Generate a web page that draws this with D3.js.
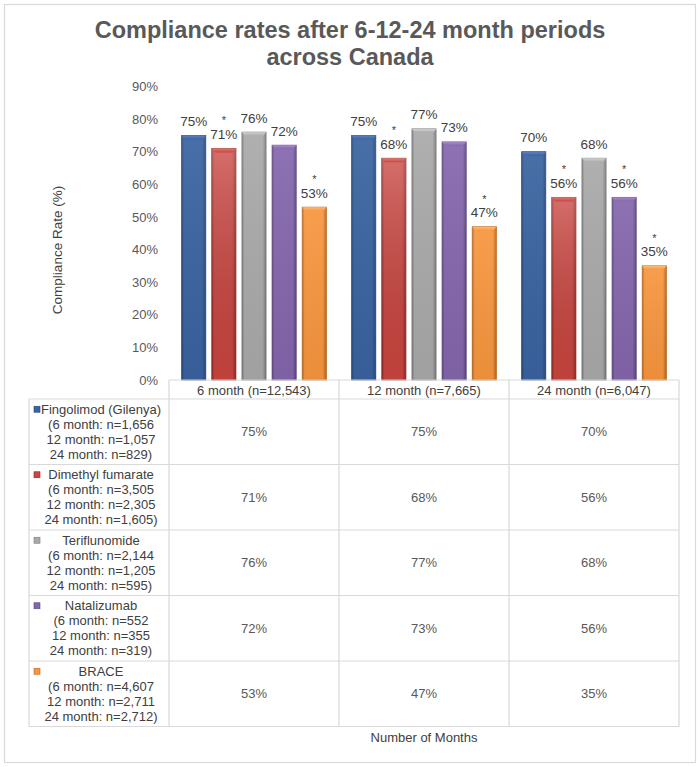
<!DOCTYPE html>
<html>
<head>
<meta charset="utf-8">
<script src="https://cdn.jsdelivr.net/npm/d3@7"></script>
<style>
  html, body { margin: 0; padding: 0; background: #fff; }
  svg { display: block; font-family: Arial, "Liberation Sans", sans-serif; }
</style>
</head>
<body>
<svg id="chart" width="700" height="767"></svg>
<script>
// ---------- data ----------
const periods = ["6 month (n=12,543)", "12 month (n=7,665)", "24 month (n=6,047)"];
const drugs = ["Fingolimod (Gilenya)", "Dimethyl fumarate", "Teriflunomide", "Natalizumab", "BRACE"];
const drugCounts = [
  ["(6 month: n=1,656", "12 month: n=1,057", "24 month: n=829)"],
  ["(6 month: n=3,505", "12 month: n=2,305", "24 month: n=1,605)"],
  ["(6 month: n=2,144", "12 month: n=1,205", "24 month: n=595)"],
  ["(6 month: n=552", "12 month: n=355", "24 month: n=319)"],
  ["(6 month: n=4,607", "12 month: n=2,711", "24 month: n=2,712)"]
];
const fingolimod   = [75, 75, 70];
const dimethyl     = [71, 68, 56];
const teriflunomide = [76, 77, 68];
const natalizumab  = [72, 73, 56];
const brace        = [53, 47, 35];
const seriesValues = [fingolimod, dimethyl, teriflunomide, natalizumab, brace];
// significance markers (*) per series per period
const fingolimodSig    = [false, false, false];
const dimethylSig      = [true, true, true];
const teriflunomideSig = [false, false, false];
const natalizumabSig   = [false, false, true];
const braceSig         = [true, true, true];
const seriesSig = [fingolimodSig, dimethylSig, teriflunomideSig, natalizumabSig, braceSig];
const yTicks = [0, 10, 20, 30, 40, 50, 60, 70, 80, 90];

const colors = [
  { base: "#3A63A0", light: "#5A84C0", dark: "#27487A" },
  { base: "#C9453F", light: "#DE7A74", dark: "#8F2A26" },
  { base: "#A9A9A9", light: "#D2D2D2", dark: "#7A7A7A" },
  { base: "#8466AC", light: "#A88BCB", dark: "#5D4680" },
  { base: "#F7963F", light: "#FBBE7A", dark: "#B8661E" }
];

// ---------- layout ----------
const svg = d3.select("#chart");
const plotLeft = 169, plotRight = 679;
const yTop = 86.5, yBottom = 380;
const tableLeft = 29;
const headerH = 19;
const rowH = 65.5;
const textDark = "#404040", textGray = "#595959", gridGray = "#D9D9D9";

// outer frame
svg.append("rect").attr("x", 4.5).attr("y", 4.5).attr("width", 691).attr("height", 758)
  .attr("fill", "#fff").attr("stroke", gridGray).attr("stroke-width", 1.2);

// title
const title = svg.append("text").attr("text-anchor", "middle")
  .attr("font-size", 23.5).attr("font-weight", "bold").attr("fill", textGray);
title.append("tspan").attr("x", 350).attr("y", 38).text("Compliance rates after 6-12-24 month periods");
title.append("tspan").attr("x", 350).attr("y", 65).text("across Canada");

// scales
const x0 = d3.scaleBand().domain(periods).range([plotLeft, plotRight]).paddingInner(0).paddingOuter(0);
const x1 = d3.scaleBand().domain(drugs).range([0, x0.bandwidth()]).paddingInner(0.2).paddingOuter(0.42);
const y = d3.scaleLinear().domain([0, 90]).range([yBottom, yTop]);

// y axis (labels only)
const yAxis = d3.axisLeft(y).tickValues(yTicks).tickFormat(d => d + "%").tickSize(0).tickPadding(0);
const yg = svg.append("g").attr("transform", `translate(158,0)`).call(yAxis);
yg.select(".domain").remove();
yg.selectAll("text").attr("font-size", 13).attr("fill", textGray)
  .attr("font-family", "Arial, 'Liberation Sans', sans-serif");

// y axis title
svg.append("text").attr("transform", "translate(62,250) rotate(-90)")
  .attr("text-anchor", "middle").attr("font-size", 13.5).attr("fill", textDark)
  .text("Compliance Rate (%)");

// gradients
const defs = svg.append("defs");
colors.forEach((c, i) => {
  const g = defs.append("linearGradient").attr("id", "hg" + i).attr("x1", 0).attr("x2", 1).attr("y1", 0).attr("y2", 0);
  g.append("stop").attr("offset", "0%").attr("stop-color", c.dark);
  g.append("stop").attr("offset", "10%").attr("stop-color", c.base);
  g.append("stop").attr("offset", "85%").attr("stop-color", c.base);
  g.append("stop").attr("offset", "100%").attr("stop-color", c.dark);
  const v = defs.append("linearGradient").attr("id", "vg" + i).attr("x1", 0).attr("x2", 0).attr("y1", 0).attr("y2", 1);
  v.append("stop").attr("offset", "0%").attr("stop-color", "#fff").attr("stop-opacity", i === 1 ? 0.22 : 0.08);
  v.append("stop").attr("offset", "100%").attr("stop-color", "#000").attr("stop-opacity", 0.05);
  const t = defs.append("linearGradient").attr("id", "tg" + i).attr("x1", 0).attr("x2", 0).attr("y1", 0).attr("y2", 1);
  t.append("stop").attr("offset", "0%").attr("stop-color", c.light);
  t.append("stop").attr("offset", "100%").attr("stop-color", c.base);
});

// bars
const flat = [];
periods.forEach((p, pi) => {
  drugs.forEach((dname, di) => {
    flat.push({ period: p, drug: dname, di, value: seriesValues[di][pi], sig: seriesSig[di][pi] });
  });
});

const barG = svg.append("g");
const bars = barG.selectAll("g.bar").data(flat).enter().append("g").attr("class", "bar");
bars.append("rect")
  .attr("x", d => x0(d.period) + x1(d.drug))
  .attr("y", d => y(d.value))
  .attr("width", x1.bandwidth())
  .attr("height", d => y(0) - y(d.value))
  .attr("fill", d => `url(#hg${d.di})`)
  .attr("stroke", d => colors[d.di].dark).attr("stroke-width", 0.8);
bars.append("rect")
  .attr("x", d => x0(d.period) + x1(d.drug))
  .attr("y", d => y(d.value))
  .attr("width", x1.bandwidth())
  .attr("height", d => y(0) - y(d.value))
  .attr("fill", d => `url(#vg${d.di})`);
// top bevel cap
bars.append("path")
  .attr("d", d => {
    const xl = x0(d.period) + x1(d.drug), w = x1.bandwidth(), yt = y(d.value);
    return `M${xl},${yt} L${xl + w},${yt} L${xl + w - 3},${yt + 4} L${xl + 3},${yt + 4} Z`;
  })
  .attr("fill", d => `url(#tg${d.di})`);

// data labels
bars.append("text")
  .attr("x", d => x0(d.period) + x1(d.drug) + x1.bandwidth() / 2)
  .attr("y", d => y(d.value) - 9.5)
  .attr("text-anchor", "middle").attr("font-size", 13.5).attr("fill", textDark)
  .text(d => d.value + "%");
bars.filter(d => d.sig).append("text")
  .attr("x", d => x0(d.period) + x1(d.drug) + x1.bandwidth() / 2)
  .attr("y", d => y(d.value) - 24)
  .attr("text-anchor", "middle").attr("font-size", 11).attr("fill", textDark)
  .text("*");

// ---------- data table ----------
const tbl = svg.append("g");
const tableTop = yBottom;
const rowsTop = tableTop + headerH;
const tableBottom = rowsTop + rowH * drugs.length;
// header row lines
tbl.append("line").attr("x1", plotLeft).attr("x2", plotRight).attr("y1", tableTop).attr("y2", tableTop)
  .attr("stroke", gridGray).attr("stroke-width", 1.2);
// horizontal row lines
d3.range(drugs.length + 1).forEach(i => {
  tbl.append("line").attr("x1", tableLeft).attr("x2", plotRight)
    .attr("y1", rowsTop + i * rowH).attr("y2", rowsTop + i * rowH)
    .attr("stroke", gridGray).attr("stroke-width", 1.2);
});
// vertical lines
tbl.append("line").attr("x1", tableLeft).attr("x2", tableLeft).attr("y1", rowsTop).attr("y2", tableBottom)
  .attr("stroke", gridGray).attr("stroke-width", 1.2);
[plotLeft, ...periods.map(p => x0(p) + x0.bandwidth())].forEach(xv => {
  tbl.append("line").attr("x1", xv).attr("x2", xv).attr("y1", tableTop).attr("y2", tableBottom)
    .attr("stroke", gridGray).attr("stroke-width", 1.2);
});
// header labels
periods.forEach(p => {
  tbl.append("text").attr("x", x0(p) + x0.bandwidth() / 2).attr("y", tableTop + 14.5)
    .attr("text-anchor", "middle").attr("font-size", 13).attr("fill", textDark).text(p);
});
// row labels and values
drugs.forEach((dname, di) => {
  const cy = rowsTop + di * rowH + rowH / 2;
  const lines = [dname, ...drugCounts[di]];
  const lh = 15;
  const firstCenter = cy - lh * 1.5;
  lines.forEach((ln, li) => {
    tbl.append("text").attr("x", 101).attr("y", firstCenter + li * lh + 4.7)
      .attr("text-anchor", "middle").attr("font-size", 13).attr("fill", textDark).text(ln);
  });
  // legend key
  tbl.append("rect").attr("x", 34).attr("y", firstCenter - 3).attr("width", 6).attr("height", 6)
    .attr("fill", colors[di].base).attr("stroke", colors[di].dark).attr("stroke-width", 0.6);
  periods.forEach((p, pi) => {
    tbl.append("text").attr("x", x0(p) + x0.bandwidth() / 2).attr("y", cy + 4.7)
      .attr("text-anchor", "middle").attr("font-size", 13).attr("fill", textGray)
      .text(seriesValues[di][pi] + "%");
  });
});

// x axis title
svg.append("text").attr("x", (plotLeft + plotRight) / 2).attr("y", 742)
  .attr("text-anchor", "middle").attr("font-size", 13).attr("fill", textDark).text("Number of Months");
</script>
</body>
</html>
